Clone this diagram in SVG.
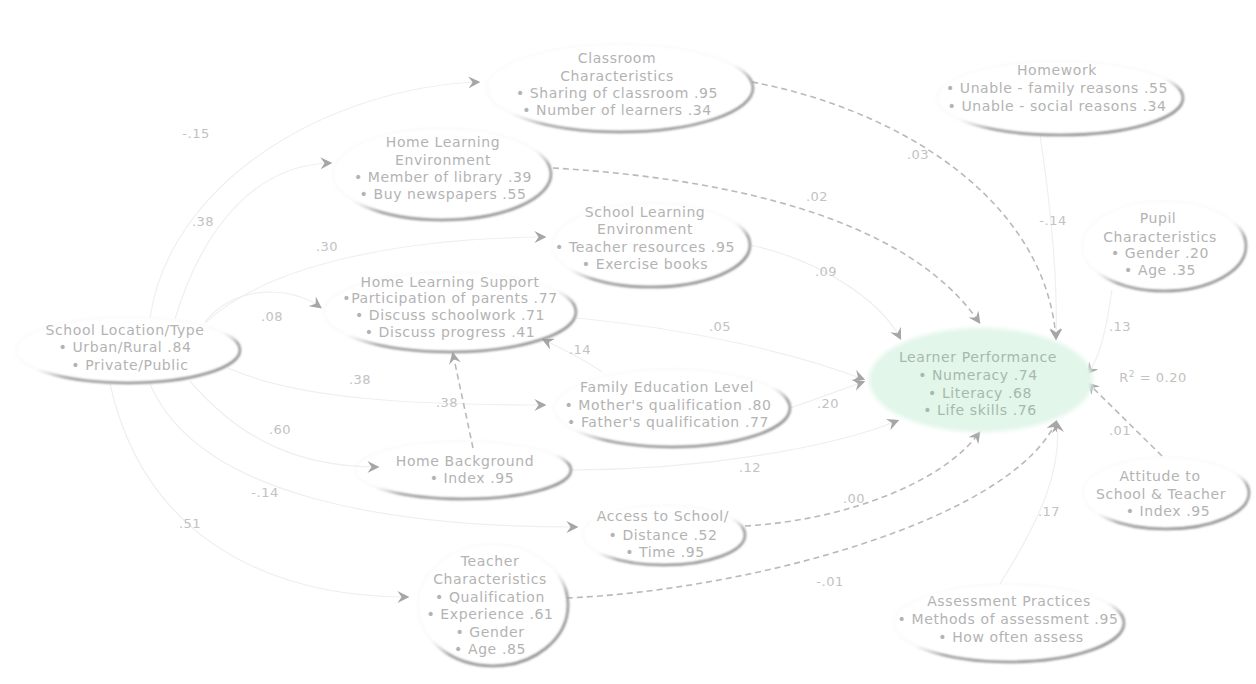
<svg xmlns="http://www.w3.org/2000/svg" width="1256" height="684" viewBox="0 0 1256 684">
  <defs>
    <style>
      .t { font-family: "DejaVu Sans", "Liberation Sans", sans-serif; font-size: 14px; letter-spacing: 0.6px; fill: #b3b3b3; text-anchor: middle; }
      .lp { fill: #a7b9ae; }
      .lbl { font-family: "DejaVu Sans", "Liberation Sans", sans-serif; font-size: 13px; letter-spacing: 0.5px; fill: #c2c2c2; text-anchor: middle; }
      .rim { fill: none; stroke: url(#rimGrad); stroke-width: 2.6; filter: url(#soft); }
      .dash { fill: none; stroke: #bababa; stroke-width: 1.6; stroke-dasharray: 6 4; marker-end: url(#chev); }
      .faint { fill: none; stroke: #efefef; stroke-width: 1.2; marker-end: url(#chev); }
    </style>
    <linearGradient id="rimGrad" x1="0.1" y1="0" x2="0.7" y2="0.9">
      <stop offset="0" stop-color="#e0e0e0" stop-opacity="0.12"/>
      <stop offset="0.6" stop-color="#d8d8d8" stop-opacity="0.12"/>
      <stop offset="0.76" stop-color="#9e9e9e" stop-opacity="1"/>
      <stop offset="1" stop-color="#909090" stop-opacity="1"/>
    </linearGradient>
    <filter id="soft" x="-10%" y="-10%" width="120%" height="120%">
      <feGaussianBlur stdDeviation="0.9"/>
    </filter>
    <filter id="glow" x="-10%" y="-10%" width="120%" height="120%">
      <feGaussianBlur stdDeviation="2"/>
    </filter>
    <marker id="chev" viewBox="0 0 10 10" refX="8" refY="5" markerWidth="12" markerHeight="12" markerUnits="userSpaceOnUse" orient="auto">
      <path d="M0,0 L10,5 L0,10 L3.5,5 Z" fill="#a6a6a6"/>
    </marker>
  </defs>

  <rect width="1256" height="684" fill="#ffffff"/>

  <!-- connectors -->
  <g id="connectors">
    <!-- from School Location/Type -->
    <path class="faint" d="M150,318 C170,180 330,88 478,82"/>
    <path class="faint" d="M175,319 C205,220 260,165 330,163"/>
    <path class="faint" d="M205,323 C270,262 410,238 544,237"/>
    <path class="faint" d="M205,322 C235,285 290,285 320,307"/>
    <path class="faint" d="M228,368 C300,400 420,405 544,405"/>
    <path class="faint" d="M190,381 C240,440 300,467 377,467"/>
    <path class="faint" d="M150,384 C200,500 400,527 576,527"/>
    <path class="faint" d="M110,384 C150,560 300,597 407,597"/>

    <!-- among the home factors -->
    <path class="dash" d="M473,448 L453,354"/>
    <path class="faint" d="M602,372 C585,360 565,350 544,340"/>

    <!-- into Learner Performance -->
    <path class="dash" d="M752,82 C900,110 1045,200 1056,338"/>
    <path class="faint" d="M1040,135 C1050,200 1058,280 1056,338"/>
    <path class="dash" d="M553,168 C720,178 905,215 979,322"/>
    <path class="faint" d="M750,245 C820,260 880,300 900,338"/>
    <path class="faint" d="M577,318 C700,330 800,355 863,379"/>
    <path class="faint" d="M790,408 C820,398 840,390 863,382"/>
    <path class="faint" d="M571,470 C700,470 830,448 897,421"/>
    <path class="dash" d="M745,526 C850,520 945,480 979,433"/>
    <path class="dash" d="M567,598 C750,590 1010,520 1056,422"/>
    <path class="faint" d="M1000,584 C1040,520 1062,470 1057,423"/>
    <path class="faint" d="M1112,290 C1106,330 1100,358 1088,373"/>
    <path class="dash" d="M1162,456 L1089,384"/>

    <!-- path coefficients -->
    <text class="lbl" x="196" y="138">-.15</text>
    <text class="lbl" x="203" y="226">.38</text>
    <text class="lbl" x="327" y="251">.30</text>
    <text class="lbl" x="272" y="321">.08</text>
    <text class="lbl" x="360" y="384">.38</text>
    <text class="lbl" x="280" y="434">.60</text>
    <text class="lbl" x="265" y="497">-.14</text>
    <text class="lbl" x="190" y="528">.51</text>
    <text class="lbl" x="447" y="407">.38</text>
    <text class="lbl" x="580" y="354">.14</text>
    <text class="lbl" x="720" y="331">.05</text>
    <text class="lbl" x="826" y="276">.09</text>
    <text class="lbl" x="817" y="201">.02</text>
    <text class="lbl" x="918" y="159">.03</text>
    <text class="lbl" x="1053" y="225">-.14</text>
    <text class="lbl" x="828" y="408">.20</text>
    <text class="lbl" x="750" y="472">.12</text>
    <text class="lbl" x="854" y="503">.00</text>
    <text class="lbl" x="830" y="586">-.01</text>
    <text class="lbl" x="1049" y="516">.17</text>
    <text class="lbl" x="1120" y="331">.13</text>
    <text class="lbl" x="1120" y="435">.01</text>
    <text class="lbl" x="1153" y="382">R<tspan dy="-5" font-size="9">2</tspan><tspan dy="5"> = 0.20</tspan></text>
  </g>

  <g id="classroom-characteristics">
    <ellipse class="rim" cx="620" cy="88" rx="133" ry="44"/>
    <text class="t" x="617" y="63">Classroom</text>
    <text class="t" x="617" y="81">Characteristics</text>
    <text class="t" x="617" y="98">• Sharing of classroom .95</text>
    <text class="t" x="617" y="115">• Number of learners .34</text>
  </g>

  <g id="homework">
    <ellipse class="rim" cx="1060" cy="98" rx="123" ry="37"/>
    <text class="t" x="1057" y="75">Homework</text>
    <text class="t" x="1057" y="93">• Unable - family reasons .55</text>
    <text class="t" x="1057" y="111">• Unable - social reasons .34</text>
  </g>

  <g id="home-learning-environment">
    <ellipse class="rim" cx="442" cy="174" rx="109" ry="46"/>
    <text class="t" x="443" y="147">Home Learning</text>
    <text class="t" x="443" y="165">Environment</text>
    <text class="t" x="443" y="182">• Member of library .39</text>
    <text class="t" x="443" y="199">• Buy newspapers .55</text>
  </g>

  <g id="school-learning-environment">
    <ellipse class="rim" cx="651" cy="245" rx="99" ry="42"/>
    <text class="t" x="645" y="217">School Learning</text>
    <text class="t" x="645" y="234">Environment</text>
    <text class="t" x="645" y="252">• Teacher resources .95</text>
    <text class="t" x="645" y="269">• Exercise books</text>
  </g>

  <g id="pupil-characteristics">
    <ellipse class="rim" cx="1164" cy="246" rx="82" ry="45"/>
    <text class="t" x="1158" y="223">Pupil</text>
    <text class="t" x="1160" y="242">Characteristics</text>
    <text class="t" x="1160" y="258">• Gender .20</text>
    <text class="t" x="1160" y="275">• Age .35</text>
  </g>

  <g id="home-learning-support">
    <ellipse class="rim" cx="450" cy="312" rx="126" ry="40"/>
    <text class="t" x="450" y="287">Home Learning Support</text>
    <text class="t" x="450" y="303">•Participation of parents .77</text>
    <text class="t" x="450" y="320">• Discuss schoolwork .71</text>
    <text class="t" x="450" y="337">• Discuss progress .41</text>
  </g>

  <g id="school-location-type">
    <ellipse class="rim" cx="128" cy="350" rx="112" ry="33"/>
    <text class="t" x="125" y="335">School Location/Type</text>
    <text class="t" x="125" y="352">• Urban/Rural .84</text>
    <text class="t" x="130" y="370">• Private/Public</text>
  </g>

  <g id="learner-performance">
    <ellipse cx="981" cy="380" rx="112" ry="52" fill="#e2f6ea" filter="url(#glow)"/>
    <text class="t lp" x="978" y="362">Learner Performance</text>
    <text class="t lp" x="978" y="380">• Numeracy .74</text>
    <text class="t lp" x="980" y="398">• Literacy .68</text>
    <text class="t lp" x="980" y="415">• Life skills .76</text>
  </g>

  <g id="family-education-level">
    <ellipse class="rim" cx="672" cy="408" rx="118" ry="39"/>
    <text class="t" x="667" y="392">Family Education Level</text>
    <text class="t" x="668" y="410">• Mother's qualification .80</text>
    <text class="t" x="668" y="427">• Father's qualification .77</text>
  </g>

  <g id="home-background">
    <ellipse class="rim" cx="463" cy="470" rx="108" ry="29"/>
    <text class="t" x="465" y="466">Home Background</text>
    <text class="t" x="472" y="483">• Index .95</text>
  </g>

  <g id="attitude-to-school-teacher">
    <ellipse class="rim" cx="1166" cy="493" rx="83" ry="36"/>
    <text class="t" x="1160" y="481">Attitude to</text>
    <text class="t" x="1161" y="499">School &amp; Teacher</text>
    <text class="t" x="1168" y="516">• Index .95</text>
  </g>

  <g id="access-to-school">
    <ellipse class="rim" cx="664" cy="535" rx="81" ry="30"/>
    <text class="t" x="663" y="521">Access to School/</text>
    <text class="t" x="663" y="540">• Distance .52</text>
    <text class="t" x="665" y="557">• Time .95</text>
  </g>

  <g id="teacher-characteristics">
    <ellipse class="rim" cx="493" cy="605" rx="75" ry="61"/>
    <text class="t" x="490" y="566">Teacher</text>
    <text class="t" x="490" y="584">Characteristics</text>
    <text class="t" x="490" y="602">• Qualification</text>
    <text class="t" x="490" y="619">• Experience .61</text>
    <text class="t" x="490" y="637">• Gender</text>
    <text class="t" x="490" y="654">• Age .85</text>
  </g>

  <g id="assessment-practices">
    <ellipse class="rim" cx="1009" cy="623" rx="115" ry="39"/>
    <text class="t" x="1009" y="606">Assessment Practices</text>
    <text class="t" x="1008" y="624">• Methods of assessment .95</text>
    <text class="t" x="1011" y="642">• How often assess</text>
  </g>
</svg>
